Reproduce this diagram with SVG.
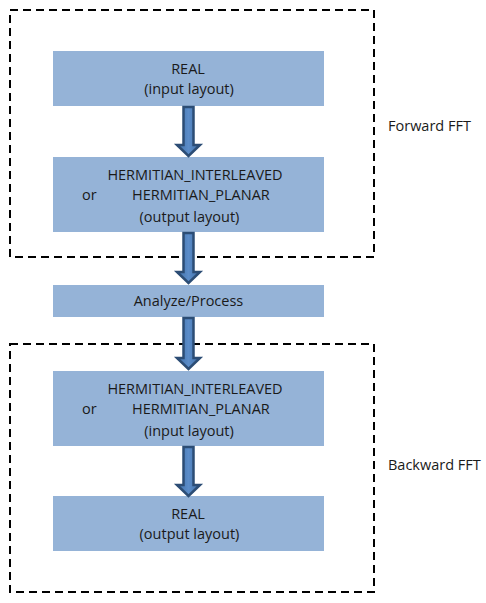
<svg xmlns="http://www.w3.org/2000/svg" width="486" height="603" viewBox="0 0 486 603">
<defs>
<linearGradient id="shaft" x1="0" y1="0" x2="1" y2="0">
<stop offset="0" stop-color="#3F6FA8"/>
<stop offset="0.5" stop-color="#5B8CC8"/>
<stop offset="1" stop-color="#3F6FA8"/>
</linearGradient>
</defs>
<style>
.box{fill:#95B3D7;}
.grp{fill:none;stroke:#000;stroke-width:2;stroke-dasharray:8 5;}
.arr{fill:url(#shaft);stroke:#2C4D75;stroke-width:2.5;stroke-linejoin:miter;}
text{font-family:"Open Sans","Liberation Sans",Arial,sans-serif;font-size:14.5px;fill:#1a1a1a;}
.c{text-anchor:middle;}
</style>
<rect width="486" height="603" fill="#fff"/>
<g id="forward-group">
<rect class="grp" x="10" y="10" width="364" height="247"/>
<text x="388" y="131">Forward FFT</text>
</g>
<g id="backward-group">
<rect class="grp" x="10" y="344" width="364" height="248"/>
<text x="388" y="470">Backward FFT</text>
</g>
<g id="real-in">
<rect class="box" x="53" y="51" width="271" height="55"/>
<text class="c" x="188" y="74">REAL</text>
<text class="c" x="189" y="94">(input layout)</text>
</g>
<g id="herm-out">
<rect class="box" x="53" y="157" width="271" height="75"/>
<text class="c" x="195" y="180">HERMITIAN_INTERLEAVED</text>
<text x="82" y="200">or</text>
<text x="132" y="200">HERMITIAN_PLANAR</text>
<text class="c" x="189.5" y="222">(output layout)</text>
</g>
<g id="analyze">
<rect class="box" x="53" y="285" width="271" height="32"/>
<text class="c" x="188.5" y="306">Analyze/Process</text>
</g>
<g id="herm-in">
<rect class="box" x="53" y="371" width="271" height="75"/>
<text class="c" x="195" y="394">HERMITIAN_INTERLEAVED</text>
<text x="82" y="414">or</text>
<text x="132" y="414">HERMITIAN_PLANAR</text>
<text class="c" x="189" y="436">(input layout)</text>
</g>
<g id="real-out">
<rect class="box" x="53" y="496" width="271" height="55"/>
<text class="c" x="188" y="519">REAL</text>
<text class="c" x="189.5" y="539">(output layout)</text>
</g>
<g id="connectors">
<polygon class="arr" points="183.5,107 193.5,107 193.5,145 200,145 188.5,156 177,145 183.5,145"/>
<polygon class="arr" points="183.5,233 193.5,233 193.5,272 200,272 188.5,283 177,272 183.5,272"/>
<polygon class="arr" points="183.5,318 193.5,318 193.5,358 200,358 188.5,369 177,358 183.5,358"/>
<polygon class="arr" points="183.5,447 193.5,447 193.5,485 200,485 188.5,496 177,485 183.5,485"/>
</g>
</svg>
